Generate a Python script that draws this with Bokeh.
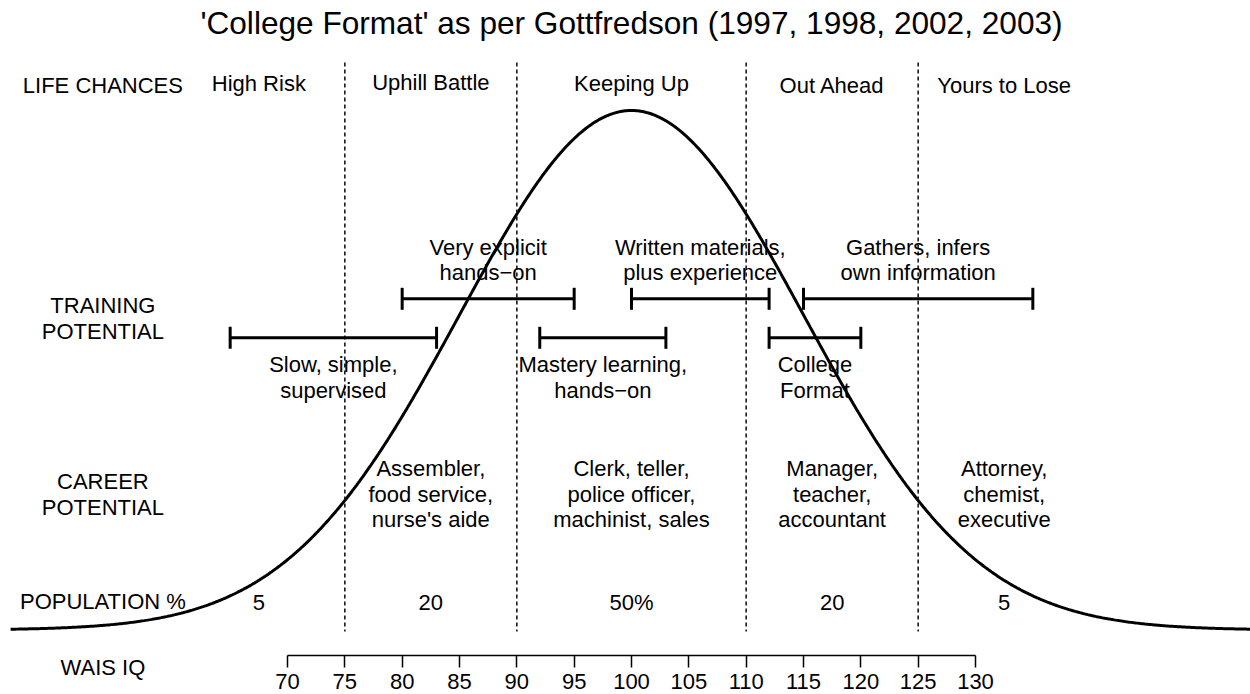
import numpy as np
from bokeh.plotting import figure
from bokeh.models import Range1d, LinearAxis, FixedTicker
from bokeh.core.properties import value
from bokeh.embed import file_html
from bokeh.resources import INLINE

# ---------------- data ----------------
TITLE = "'College Format' as per Gottfredson (1997, 1998, 2002, 2003)"
IQ_MEAN = 100
IQ_SD = 15
CURVE_FROM = 45.85
CURVE_TO = 154

band_cuts = [75, 90, 110, 125]
band_centers = [67.5, 82.5, 100, 117.5, 132.5]
life_chances = ["High Risk", "Uphill Battle", "Keeping Up", "Out Ahead", "Yours to Lose"]
career_centers = [82.5, 100, 117.5, 132.5]
career_labels = [
    "Assembler,\nfood service,\nnurse's aide",
    "Clerk, teller,\npolice officer,\nmachinist, sales",
    "Manager,\nteacher,\naccountant",
    "Attorney,\nchemist,\nexecutive",
]
population = ["5", "20", "50%", "20", "5"]

training_labels = [
    "Slow, simple,\nsupervised",
    "Very explicit\nhands\u2212on",
    "Mastery learning,\nhands\u2212on",
    "Written materials,\nplus experience",
    "College\nFormat",
    "Gathers, infers\nown information",
]
training_start = [65, 80, 92, 100, 112, 115]
training_end = [83, 95, 103, 112, 120, 135]
training_tier = ["low", "high", "low", "high", "low", "high"]

row_labels = ["LIFE CHANCES", "TRAINING\nPOTENTIAL", "CAREER\nPOTENTIAL", "POPULATION %", "WAIS IQ"]
wais_ticks = [70, 75, 80, 85, 90, 95, 100, 105, 110, 115, 120, 125, 130]

# ---------------- layout helpers ----------------
W, H = 1250, 694
PX_PER_IQ = 688 / 60.0
X0 = 70 - 287 / PX_PER_IQ
X1 = X0 + W / PX_PER_IQ
PEAK = 1.0 / (IQ_SD * np.sqrt(2 * np.pi))
BASE_ROW, PEAK_ROW = 629.5, 110.0
U = PEAK / (BASE_ROW - PEAK_ROW)          # density units per pixel


def ypx(row):
    """picture pixel row -> y data value"""
    return (BASE_ROW - row) * U


def xpx(col):
    """picture pixel column -> x data value"""
    return X0 + col / PX_PER_IQ


FONT = value("Liberation Sans")
FS = "22px"
LH = 1.03
LABEL_X = 53.9

p = figure(width=W, height=H, output_backend="svg", toolbar_location=None,
           x_axis_type=None, y_axis_type=None,
           x_range=Range1d(X0, X1), y_range=Range1d(ypx(H), ypx(0)),
           min_border=0, outline_line_color=None, background_fill_color="white")

# bell curve
xs = np.linspace(CURVE_FROM, CURVE_TO, 800)
ys = np.exp(-0.5 * ((xs - IQ_MEAN) / IQ_SD) ** 2) / (IQ_SD * np.sqrt(2 * np.pi))
p.line(xs, ys, line_color="black", line_width=3)

# dashed band separators
p.segment(x0=band_cuts, x1=band_cuts, y0=[ypx(62)] * 4, y1=[ypx(631)] * 4,
          line_color="#1a1a1a", line_width=1.6, line_dash="4 3")

# title
p.text(x=[xpx(631)], y=[ypx(22.5)], text=[TITLE], text_font=FONT,
       text_font_size="31.6px", text_align="center", text_baseline="middle", text_color="black")


def txt(xv, yv, labels, size=FS):
    p.text(x=xv, y=yv, text=labels, text_font=FONT, text_font_size=size,
           text_align="center", text_baseline="middle", text_color="black",
           text_line_height=LH)


# row labels
row_y = [84.5, 318, 494, 601, 667]
txt([LABEL_X] * len(row_labels), [ypx(r) for r in row_y], row_labels)

# life chances
life_rows = [82.5, 81.5, 82.5, 84.5, 84.5]
txt(band_centers, [ypx(r) for r in life_rows], life_chances)

# training bars
bar_row = {"high": 298.3, "low": 337.3}
text_row = {"high": 259.5, "low": 377}
by = [ypx(bar_row[t]) for t in training_tier]
p.segment(x0=training_start, x1=training_end, y0=by, y1=by, line_color="black", line_width=3)
cap_top = [ypx(bar_row[t] - 11) for t in training_tier]
cap_bot = [ypx(bar_row[t] + 11) for t in training_tier]
p.segment(x0=training_start, x1=training_start, y0=cap_top, y1=cap_bot, line_color="black", line_width=3)
p.segment(x0=training_end, x1=training_end, y0=cap_top, y1=cap_bot, line_color="black", line_width=3)
mid = [(a + b) / 2 for a, b in zip(training_start, training_end)]
txt(mid, [ypx(text_row[t]) for t in training_tier], training_labels)

# career
txt(career_centers, [ypx(493.5)] * len(career_labels), career_labels)

# population
txt(band_centers, [ypx(601.5)] * len(population), population)

# WAIS IQ axis
ax = LinearAxis(fixed_location=ypx(655), bounds=(70, 130),
                ticker=FixedTicker(ticks=wais_ticks))
ax.axis_line_color = "black"
ax.axis_line_width = 1.5
ax.major_tick_line_color = "black"
ax.major_tick_line_width = 1.5
ax.major_tick_out = 12
ax.major_tick_in = 0
ax.minor_tick_out = 0
ax.minor_tick_in = 0
ax.major_label_text_font = "Liberation Sans"
ax.major_label_text_font_size = FS
ax.major_label_text_color = "black"
ax.major_label_standoff = 6
p.add_layout(ax, "below")

open("out.html", "w").write(file_html(p, INLINE))
